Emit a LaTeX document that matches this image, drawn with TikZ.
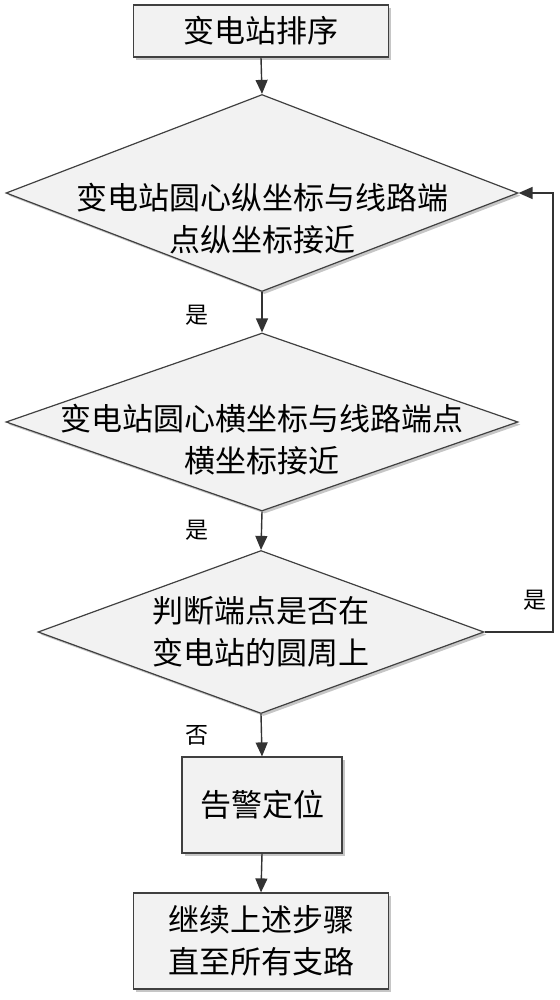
\documentclass[tikz,border=0pt]{standalone}
\usepackage{fontspec}
\setmainfont{Noto Sans CJK SC}
\usetikzlibrary{shapes.geometric,arrows.meta,shadows}

\tikzset{
  boxfill/.style={draw=black!75, line width=0.6pt, fill=gray!10,
    drop shadow={shadow xshift=1.3pt, shadow yshift=-1.3pt, fill=gray!45, opacity=1}},
  procbox/.style={boxfill, rectangle, inner sep=0pt},
  decision/.style={boxfill, diamond, inner sep=0pt},
  txt/.style={font=\fontsize{15.5pt}{21pt}\selectfont, align=center, inner sep=0pt},
  lbl/.style={font=\fontsize{11.5pt}{14pt}\selectfont, inner sep=0pt},
  flow/.style={draw=black!80, line width=0.7pt, -{Triangle[length=7pt,width=6pt]}}
}

\begin{document}
\begin{tikzpicture}[x=0.5pt,y=-0.5pt]
    \useasboundingbox (0,0) rectangle (560,1000);
    % Process boxes and decisions
    \node[procbox, minimum width=127.5pt, minimum height=26pt] (sort) at (261,31) {};
    \node[txt] (sortt) at (sort.center) {变电站排序};
    \node[decision, minimum width=256pt, minimum height=98.5pt] (ycmp) at (262,193) {};
    \node[txt] (ycmpt) at (262,219) {变电站圆心纵坐标与线路端\\点纵坐标接近};
    \node[decision, minimum width=256pt, minimum height=89pt] (xcmp) at (262,422) {};
    \node[txt] (xcmpt) at (262,440) {变电站圆心横坐标与线路端点\\横坐标接近};
    \node[decision, minimum width=223pt, minimum height=81.5pt] (oncirc) at (261,632) {};
    \node[txt] (oncirct) at (oncirc.center) {判断端点是否在\\变电站的圆周上};
    \node[procbox, minimum width=80pt, minimum height=48pt] (alarm) at (262,805) {};
    \node[txt] (alarmt) at (alarm.center) {告警定位};
    \node[procbox, minimum width=127.5pt, minimum height=48pt] (cont) at (261,941) {};
    \node[txt] (contt) at (cont.center) {继续上述步骤\\直至所有支路};
    % Branch labels
    \node[lbl] (yes1) at (197,315) {是};
    \node[lbl] (yes2) at (197,530) {是};
    \node[lbl] (no1) at (197,735) {否};
    \node[lbl] (yes3) at (535,600) {是};
    % Connectors
    \draw[flow] (sort.south) -- (ycmp.north);
    \draw[flow] (ycmp.south) -- (xcmp.north);
    \draw[flow] (xcmp.south) -- (oncirc.north);
    \draw[flow] (oncirc.south) -- (alarm.north);
    \draw[flow] (alarm.south) -- (cont.north);
    \coordinate (loopx) at (553,0);
    \draw[flow] (oncirc.east) -- (oncirc.east -| loopx) |- (ycmp.east);
\end{tikzpicture}
\end{document}
